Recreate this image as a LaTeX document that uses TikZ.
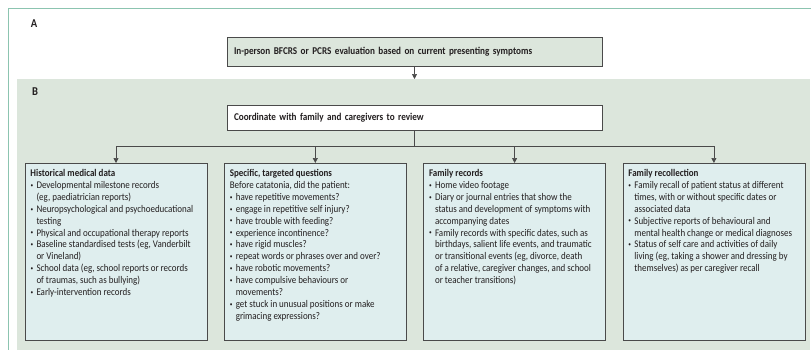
\documentclass[tikz,border=0pt]{standalone}
\usepackage{fontspec}
\setmainfont{Carlito}[FakeStretch=0.88]
\usetikzlibrary{arrows.meta,positioning}
\definecolor{frameteal}{HTML}{8CC4B0}
\definecolor{panelgreen}{HTML}{DCE6DC}
\definecolor{listfill}{HTML}{DFEEEE}
\definecolor{boxline}{HTML}{4A4A4A}
\definecolor{inkgray}{HTML}{231F20}
\newcommand{\bitem}[1]{\par\noindent\hangindent=6pt\hangafter=1\makebox[6pt][l]{\raisebox{0.25ex}{\scalebox{0.6}{\textbullet}}}#1}
\newcommand{\listtext}[1]{\parbox[t][165pt][t]{171pt}{\raggedright\fontsize{10.2}{11.9}\selectfont #1}}

\begin{document}
\begin{tikzpicture}[x=1pt,y=1pt,text=inkgray,
    flowbox/.style={draw=boxline,line width=0.8pt,minimum width=375pt,text width=361pt,inner xsep=7pt,align=left,font=\fontsize{10.4}{12}\selectfont\bfseries},
    listbox/.style={draw=boxline,fill=listfill,line width=0.8pt,inner xsep=5.5pt,inner ysep=6pt},
    flow/.style={-{Triangle[width=5pt,length=5pt]},line width=0.7pt,draw=boxline},
    panel/.style={font=\fontsize{12}{14}\selectfont\bfseries}]
      \useasboundingbox (0,0) rectangle (811,-349);
      \fill[panelgreen] (17,-79) rectangle (810,-352);
      \draw[frameteal,line width=0.9pt] (8,-8) rectangle (816,-356);
      \node[panel] at (34,-24) {A};
      \node[panel] at (35,-92) {B};

      \node[flowbox,fill=panelgreen,minimum height=29pt,anchor=north] (1) at (414.5,-37) {In-person BFCRS or PCRS evaluation based on current presenting symptoms};
      \node[flowbox,fill=white,minimum height=25pt,below=38pt of 1] (2) {Coordinate with family and caregivers to review};

      \node[listbox,anchor=north] (3) at (116,-163) {\listtext{\textbf{Historical medical data}
        \bitem{Developmental milestone records\newline (eg, paediatrician reports)}
        \bitem{Neuropsychological and psychoeducational\newline testing}
        \bitem{Physical and occupational therapy reports}
        \bitem{Baseline standardised tests (eg, Vanderbilt\newline or Vineland)}
        \bitem{School data (eg, school reports or records\newline of traumas, such as bullying)}
        \bitem{Early-intervention records}}};
      \node[listbox,right=16.5pt of 3] (4) {\listtext{\textbf{Specific, targeted questions}\par
        Before catatonia, did the patient:
        \bitem{have repetitive movements?}
        \bitem{engage in repetitive self injury?}
        \bitem{have trouble with feeding?}
        \bitem{experience incontinence?}
        \bitem{have rigid muscles?}
        \bitem{repeat words or phrases over and over?}
        \bitem{have robotic movements?}
        \bitem{have compulsive behaviours or\newline movements?}
        \bitem{get stuck in unusual positions or make\newline grimacing expressions?}}};
      \node[listbox,right=16.5pt of 4] (5) {\listtext{\textbf{Family records}
        \bitem{Home video footage}
        \bitem{Diary or journal entries that show the\newline status and development of symptoms with\newline accompanying dates}
        \bitem{Family records with specific dates, such as\newline birthdays, salient life events, and traumatic\newline or transitional events (eg, divorce, death\newline of a relative, caregiver changes, and school\newline or teacher transitions)}}};
      \node[listbox,right=16.5pt of 5] (6) {\listtext{\textbf{Family recollection}
        \bitem{Family recall of patient status at different\newline times, with or without specific dates or\newline associated data}
        \bitem{Subjective reports of behavioural and\newline mental health change or medical diagnoses}
        \bitem{Status of self care and activities of daily\newline living (eg, taking a shower and dressing by\newline themselves) as per caregiver recall}}};

      \coordinate (top) at (1.south |- 0,-79);
      \coordinate (split) at (2.south |- 0,-146);
      \draw[flow] (1) -- (top);
      \draw[line width=0.7pt,draw=boxline] (2) -- (split);
      \draw[flow] (split) -| (3.north);
      \draw[flow] (split) -| (4.north);
      \draw[flow] (split) -| (5.north);
      \draw[flow] (split) -| (6.north);
    \end{tikzpicture}
\end{document}
